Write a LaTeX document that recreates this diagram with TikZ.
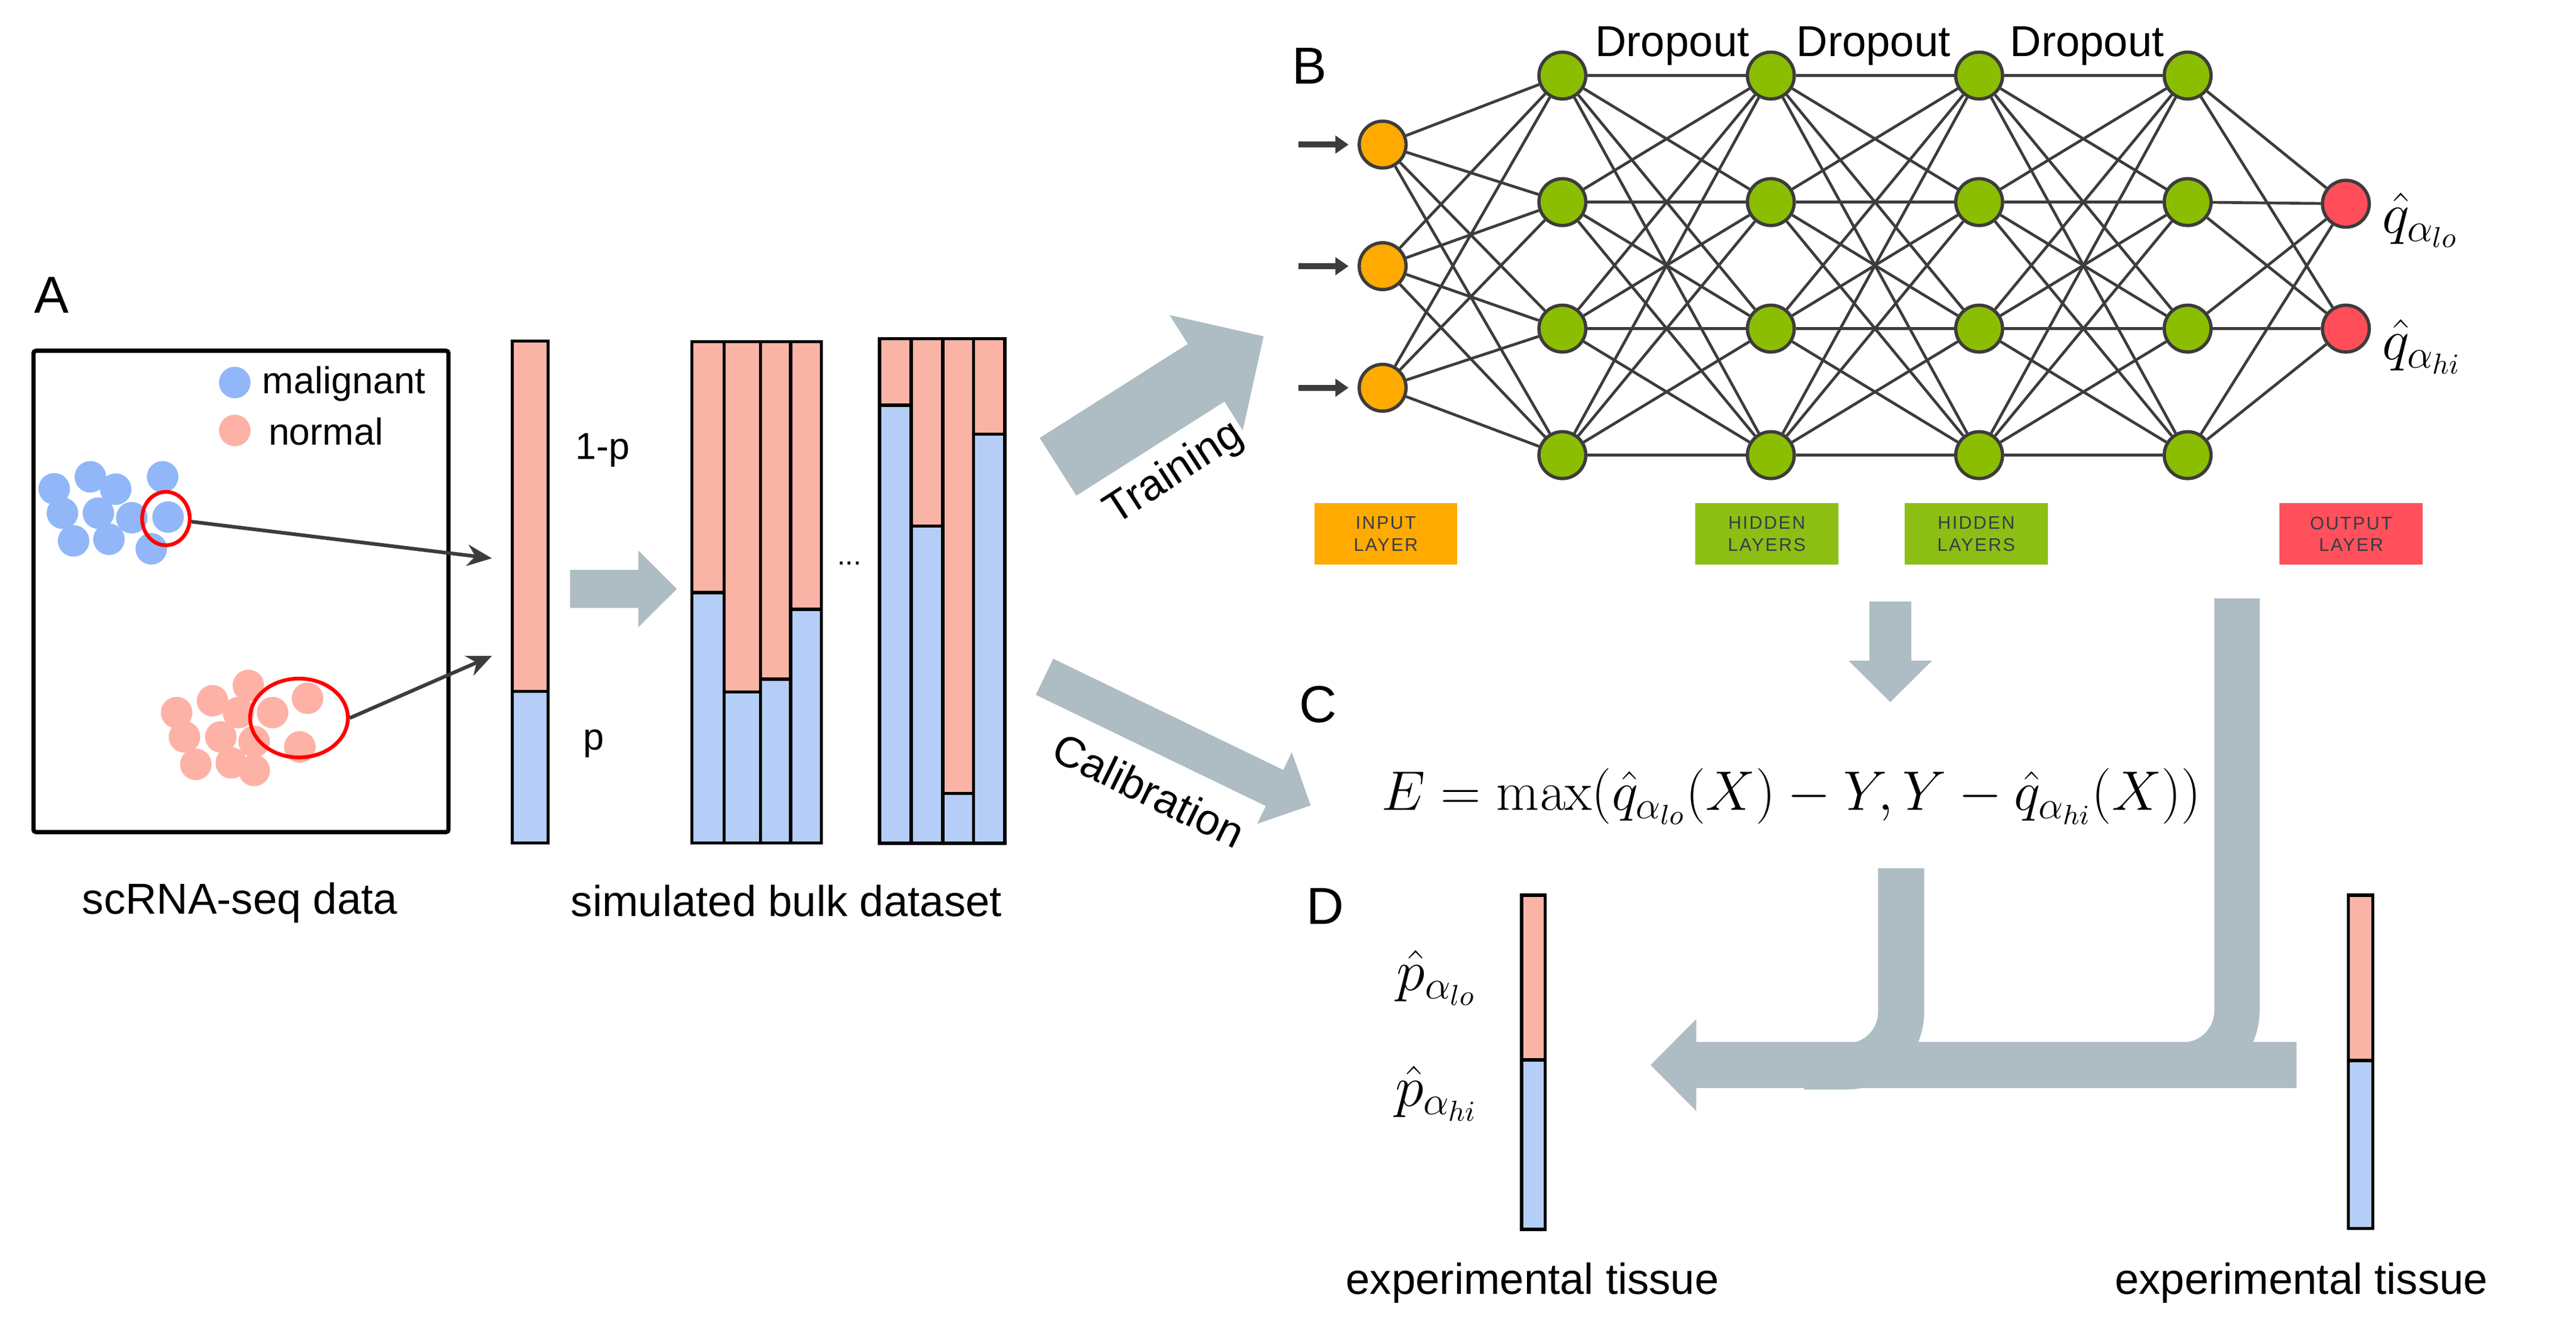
\RequirePackage{fix-cm}
\documentclass[tikz,border=0pt]{standalone}
\usepackage[no-math]{fontspec}
\setmainfont{Liberation Sans}
\newfontfamily\tagfont[LetterSpace=8]{Liberation Sans}
\usetikzlibrary{shapes.geometric,arrows.meta}

\definecolor{arrowgray}{RGB}{174,188,195}
\definecolor{cellblue}{RGB}{145,183,248}
\definecolor{cellpink}{RGB}{253,178,165}
\definecolor{barblue}{RGB}{181,206,248}
\definecolor{barpink}{RGB}{250,180,166}
\definecolor{unitorange}{RGB}{255,170,0}
\definecolor{unitgreen}{RGB}{139,190,0}
\definecolor{unitred}{RGB}{255,78,90}
\definecolor{taggreen}{RGB}{140,190,20}
\definecolor{tagred}{RGB}{255,80,92}
\definecolor{wiregray}{RGB}{60,60,60}
\definecolor{tagtext}{RGB}{55,60,70}

\tikzset{
  panel/.style={font=\fontsize{18}{21}\selectfont},
  lab/.style={font=\fontsize{15}{18}\selectfont},
  leg/.style={font=\fontsize{13}{15}\selectfont},
  mathlab/.style={font=\fontsize{20}{24}\selectfont},
  formula/.style={font=\fontsize{19.3}{23}\selectfont},
  frame/.style={line width=0.52mm, rounded corners=0.3mm},
  barline/.style={line width=0.4mm},
  pick/.style={ellipse, draw=red, line width=0.46mm, inner sep=0pt},
  pointer/.style={wiregray, line width=0.44mm, -{Stealth[length=3mm,width=2.6mm]}},
  feed/.style={wiregray, line width=0.7mm, -{Triangle[length=1.6mm,width=2.1mm]}},
  unit/.style={circle, draw=wiregray, line width=0.4mm, minimum size=5.7mm, inner sep=0pt},
  wire/.style={wiregray, line width=0.34mm},
  tagbox/.style={minimum width=17.4mm, minimum height=7.5mm, inner sep=0pt, align=center,
    text=tagtext, font=\tagfont\fontsize{6.3}{7.6}\selectfont},
}

\begin{document}
\begin{tikzpicture}[x=0.2mm,y=-0.2mm]
\useasboundingbox (0,0) rectangle (1568,814);

% A: single cells
\node[panel] (labA) at (31.3,179.5) {A};
\draw[frame] (20.4,213.5) rectangle (273,506.4);
\fill[cellblue] (142.9,232.8) circle (1.92mm);
\fill[cellpink] (142.9,262.0) circle (1.92mm);
\node[leg, anchor=base west, inner sep=0pt] (malig) at (159.4,239.6) {malignant};
\node[leg, anchor=base west, inner sep=0pt] (norm) at (163.1,270.8) {normal};
\foreach \x/\y in {33.0/297.5,55.0/290.2,70.4/297.7,99.0/290.2,38.0/312.3,59.9/312.3,
    80.2/315.1,102.3/314.7,44.8/329.2,66.3/328.2,92.1/334.0}
  \fill[cellblue] (\x,\y) circle (1.92mm);
\foreach \x/\y in {151.2/417.2,129.4/426.5,107.5/433.7,145.1/433.7,165.9/433.7,187.2/425.0,
    112.3/448.5,134.4/448.5,154.7/451.3,182.5/454.6,119.2/465.2,140.8/464.3,154.7/468.9}
  \fill[cellpink] (\x,\y) circle (1.92mm);
\node[pick, minimum width=5.8mm, minimum height=6.5mm] (pickb) at (101,315.6) {};
\node[pick, minimum width=11.9mm, minimum height=9.6mm] (pickn) at (182,437) {};
\coordinate (tipb) at (299.4,339.8);
\coordinate (tipn) at (299.4,399.2);
\draw[pointer] (pickb) -- (tipb);
\draw[pointer] (pickn.east) -- (tipn);
\node[lab, anchor=base] (scdata) at (146,556.4) {scRNA-seq data};

% one simulated sample
\fill[barpink] (311.9,207.5) rectangle (333.6,420.8);
\fill[barblue] (311.9,420.8) rectangle (333.6,513);
\draw[barline] (311.9,207.5) rectangle (333.6,513);
\draw[barline] (311.9,420.8) -- (333.6,420.8);
\node[leg, anchor=base] (oneminus) at (367,279.4) {1-p};
\node[leg, anchor=base] (pfrac) at (361.5,456.5) {p};
\fill[arrowgray] (347,346.8) -- (388.6,346.8) -- (388.6,335.1) -- (412,358.4) -- (388.6,381.7)
  -- (388.6,370) -- (347,370) -- cycle;

% simulated bulk dataset
\foreach \xa/\xb/\s in {421.2/440.8/360.6,440.8/462.9/421.1,462.9/481.2/413.4,481.2/500.0/370.8}{
  \fill[barpink] (\xa,208) rectangle (\xb,\s);
  \fill[barblue] (\xa,\s) rectangle (\xb,513);
  \draw[barline] (\xa,208) rectangle (\xb,513);
  \draw[barline] (\xa,\s) -- (\xb,\s);
}
\foreach \xa/\xb/\s in {535.4/554.6/246.6,554.6/573.8/320.1,573.8/592.6/482.9,592.6/611.7/264.2}{
  \fill[barpink] (\xa,206.1) rectangle (\xb,\s);
  \fill[barblue] (\xa,\s) rectangle (\xb,513.3);
  \draw[barline] (\xa,206.1) rectangle (\xb,513.3);
  \draw[barline] (\xa,\s) -- (\xb,\s);
}
\node[font=\fontsize{10}{12}\selectfont] (dots) at (517,343) {...};
\node[lab, anchor=base] (bulk) at (478.7,557.8) {simulated bulk dataset};

% training / calibration arrows
\fill[arrowgray, shift={(644,284.1)}, rotate=32.4] (0,-20.8) -- (106.8,-20.8) -- (106.8,-41.6)
  -- (148.2,0) -- (106.8,41.6) -- (106.8,20.8) -- (0,20.8) -- cycle;
\node[lab, rotate=33] (train) at (714.8,288.3) {Training};
\fill[arrowgray, shift={(635.8,411.9)}, rotate=-25.8] (0,-12.2) -- (155.5,-12.2) -- (155.5,-24.2)
  -- (179.9,0) -- (155.5,24.2) -- (155.5,12.2) -- (0,12.2) -- cycle;
\node[lab, rotate=-26] (calib) at (699.4,480.9) {Calibration};

% B: network
\node[panel] (labB) at (797,40) {B};
\foreach \i/\y in {1/88,2/162,3/236}
  \node[unit, fill=unitorange] (in-\i) at (841.6,\y) {};
\foreach \l/\x in {1/951,2/1077.9,3/1204.7,4/1331.6}
  \foreach \i/\y in {1/46,2/123,3/200,4/277}
    \node[unit, fill=unitgreen] (h\l-\i) at (\x,\y) {};
\foreach \i/\y in {1/124,2/200}
  \node[unit, fill=unitred] (out-\i) at (1427.9,\y) {};
\foreach \i in {1,2,3}
  \foreach \j in {1,...,4}
    \draw[wire] (in-\i) -- (h1-\j);
\foreach \l/\m in {1/2,2/3,3/4}
  \foreach \i in {1,...,4}
    \foreach \j in {1,...,4}
      \draw[wire] (h\l-\i) -- (h\m-\j);
\foreach \i in {1,...,4}
  \foreach \j in {1,2}
    \draw[wire] (h4-\i) -- (out-\j);
\foreach \i in {1,2,3}
  \draw[feed] ([xshift=-7.2mm]in-\i.west) -- ([xshift=-1.1mm]in-\i.west);
\foreach \k/\x in {1/1017.9,2/1140.4,3/1270.4}
  \node[lab, anchor=base] (drop-\k) at (\x,34.3) {Dropout};
\node[mathlab, anchor=west] (qlo) at (1444,134) {$\hat{q}_{\alpha_{lo}}$};
\node[mathlab, anchor=west] (qhi) at (1444,211) {$\hat{q}_{\alpha_{hi}}$};
\node[tagbox, fill=unitorange] (tag-in) at (843.5,325) {INPUT\\LAYER};
\node[tagbox, fill=taggreen] (tag-h1) at (1075.4,325) {HIDDEN\\LAYERS};
\node[tagbox, fill=taggreen] (tag-h2) at (1202.9,325) {HIDDEN\\LAYERS};
\node[tagbox, fill=tagred] (tag-out) at (1431.1,325) {OUTPUT\\LAYER};

% C: calibration error
\node[panel] (labC) at (802.4,428.8) {C};
\fill[arrowgray] (1137.9,366.2) -- (1163.4,366.2) -- (1163.4,402.1) -- (1176,402.1) -- (1150.6,427.3)
  -- (1125.2,402.1) -- (1137.9,402.1) -- cycle;
\node[formula, anchor=base] (err) at (1090.4,493.1)
  {$E=\max(\hat{q}_{\alpha_{lo}}(X)-Y,Y-\hat{q}_{\alpha_{hi}}(X))$};

% D: intervals on experimental tissue
\node[panel] (labD) at (806.6,551.4) {D};
\draw[arrowgray, line width=5.52mm, rounded corners=6.6mm] (1361.6,364.2) -- (1361.6,648.2) -- (1290,648.2);
\draw[arrowgray, line width=5.62mm, rounded corners=6.6mm] (1157.2,528.4) -- (1157.2,649) -- (1097.9,649);
\fill[arrowgray] (1397.9,634.1) -- (1032.5,634.1) -- (1032.5,620.2) -- (1004.7,648.2) -- (1032.5,676.2)
  -- (1032.5,662.2) -- (1397.9,662.2) -- cycle;
\fill[barpink] (926.1,544.9) rectangle (940.6,645);
\fill[barblue] (926.1,645) rectangle (940.6,748.2);
\draw[barline] (926.1,544.9) rectangle (940.6,748.2);
\draw[barline] (926.1,645) -- (940.6,645);
\fill[barpink] (1429.5,544.9) rectangle (1444.3,645.4);
\fill[barblue] (1429.5,645.4) rectangle (1444.3,747.6);
\draw[barline] (1429.5,544.9) rectangle (1444.3,747.6);
\draw[barline] (1429.5,645.4) -- (1444.3,645.4);
\node[mathlab] (plo) at (874.5,595) {$\hat{p}_{\alpha_{lo}}$};
\node[mathlab] (phi) at (874.5,665.5) {$\hat{p}_{\alpha_{hi}}$};
\node[lab, anchor=base] (tis1) at (932.8,787.7) {experimental tissue};
\node[lab, anchor=base] (tis2) at (1400.8,787.7) {experimental tissue};
\end{tikzpicture}
\end{document}
